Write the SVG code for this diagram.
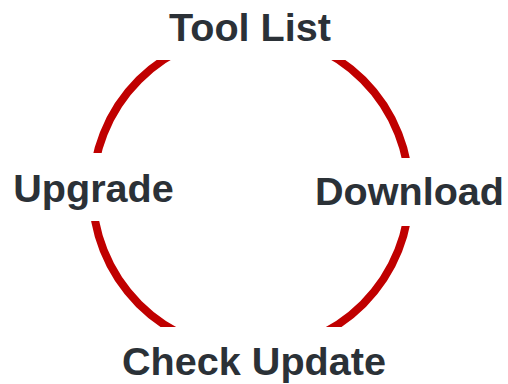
<svg xmlns="http://www.w3.org/2000/svg" width="508" height="384" viewBox="0 0 508 384">
  <style>
    .lbl { font-family: "Liberation Sans", Arial, sans-serif; font-weight: bold; font-size: 39.6px; fill: #2B3137; text-anchor: middle; }
    .arc { fill: none; stroke: #C00000; stroke-width: 8; }
  </style>
  <defs>
    <mask id="gaps" maskUnits="userSpaceOnUse" x="0" y="0" width="508" height="384">
      <rect x="0" y="0" width="508" height="384" fill="#fff"/>
      <rect x="100" y="0" width="308" height="60" fill="#000"/>
      <rect x="0" y="153" width="200" height="68" fill="#000"/>
      <rect x="300" y="158" width="208" height="68" fill="#000"/>
      <rect x="100" y="327" width="308" height="57" fill="#000"/>
    </mask>
  </defs>
  <rect width="508" height="384" fill="#fff"/>
  <g id="connectors" mask="url(#gaps)">
    <path class="arc" d="M 251 33.5 A 158.5 158.5 0 0 1 409.5 192"/>
    <path class="arc" d="M 409.5 192 A 158.5 158.5 0 0 1 251 350.5"/>
    <path class="arc" d="M 251 350.5 A 158.5 158.5 0 0 1 92.5 192"/>
    <path class="arc" d="M 92.5 192 A 158.5 158.5 0 0 1 251 33.5"/>
  </g>
  <g id="tool-list"><text class="lbl" x="250" y="41">Tool List</text></g>
  <g id="download"><text class="lbl" x="409.5" y="205">Download</text></g>
  <g id="check-update"><text class="lbl" x="254" y="375">Check Update</text></g>
  <g id="upgrade"><text class="lbl" x="93.5" y="202">Upgrade</text></g>
</svg>
